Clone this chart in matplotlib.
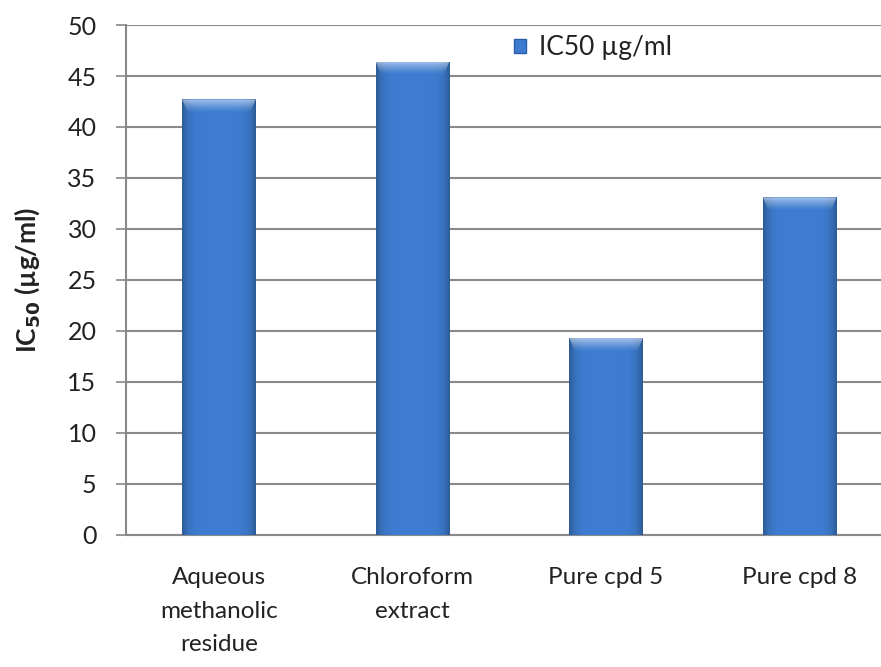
import matplotlib.pyplot as plt
from matplotlib.patches import Patch, Polygon
import numpy as np

plt.rcParams['font.family'] = ['Lato', 'DejaVu Sans']

samples = ["Aqueous\nmethanolic\nresidue", "Chloroform\nextract", "Pure cpd 5", "Pure cpd 8"]
ic50 = [42.7, 46.4, 19.3, 33.1]
yticks = list(range(0, 55, 5))

fig = plt.figure(figsize=(8.81, 6.67), dpi=100)
ax = fig.add_axes([0.143, 0.198, 0.857, 0.7645])

x = np.arange(len(samples))
width = 0.38
bars = ax.bar(x, ic50, width, color="#3c7bd0", edgecolor="none", zorder=2)

# horizontal shading across each bar, darker only near the sides
t = np.linspace(-1, 1, 80)
shade = 1 - 0.28 * np.abs(t) ** 6
base = np.array([0.24, 0.49, 0.82])
grad = (base[None, :] * shade[:, None])[None, :, :]

# white glaze for the bevelled top, fading downwards
v = np.linspace(0, 1, 40)
glaze = np.zeros((40, 4, 4))
glaze[:, :, :3] = 1.0
glaze[:, :, 3] = (0.55 * (1 - v) ** 1.3)[:, None]

for rect in bars:
    x0 = rect.get_x()
    x1 = x0 + rect.get_width()
    h = rect.get_height()
    im = ax.imshow(grad, extent=(x0, x1, 0, h), aspect="auto", zorder=3,
                   interpolation="bicubic")
    im.set_clip_path(rect)
    bh = 1.35
    ins = 0.03
    cap = Polygon([[x0, h], [x1, h], [x1 - ins, h - bh], [x0 + ins, h - bh]],
                  closed=True, facecolor="none", edgecolor="none")
    ax.add_patch(cap)
    im2 = ax.imshow(glaze, extent=(x0, x1, h - bh, h), aspect="auto", zorder=4,
                    origin="upper", interpolation="bilinear")
    im2.set_clip_path(cap)

ax.set_xlim(-0.48, 3.42)
ax.set_ylim(0, 50)
ax.set_yticks(yticks)
ax.set_xticks(x)
ax.set_xticklabels(samples, fontsize=17.5, color="#222222", linespacing=1.75)
ax.tick_params(axis="x", length=0, pad=23)
ax.tick_params(axis="y", length=7.2, width=1.2, color="#888888",
               labelsize=18, labelcolor="#222222", pad=14)
ax.grid(axis="y", color="#8a8a8a", linewidth=1.5, zorder=0)
ax.set_axisbelow(True)
for s in ["top", "right"]:
    ax.spines[s].set_visible(False)
for s in ["left", "bottom"]:
    ax.spines[s].set_color("#8a8a8a")
    ax.spines[s].set_linewidth(1.5)

ax.set_ylabel("IC$_{\\mathbf{50}}$ (µg/ml)", fontsize=19, fontweight="bold",
              color="#222222", labelpad=18)

handle = Patch(facecolor="#3c7bd0", edgecolor="#2a5ca8")
ax.legend([handle], ["IC50 µg/ml"], loc="center left", bbox_to_anchor=(0.514, 0.955),
          frameon=False, fontsize=19, handlelength=0.46, handleheight=0.46,
          handletextpad=0.5, borderpad=0, borderaxespad=0, labelcolor="#222222")

fig.savefig("out.png", dpi=100)
